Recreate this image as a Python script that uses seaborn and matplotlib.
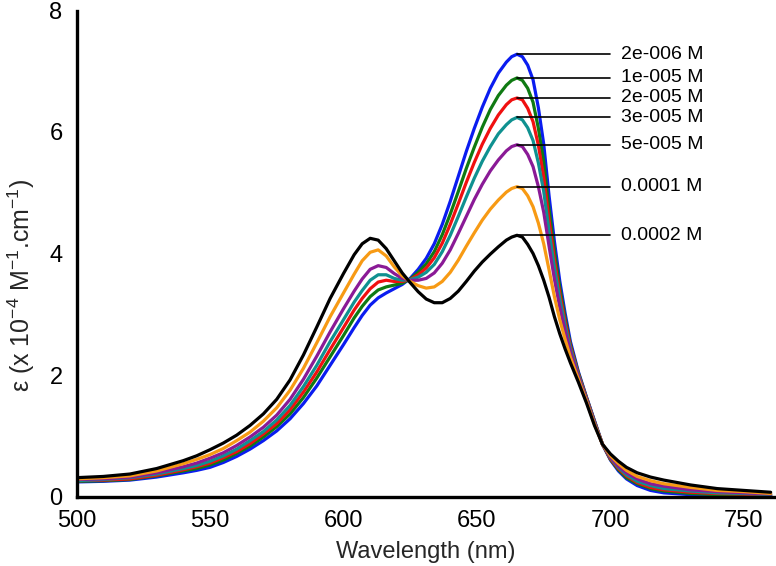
import numpy as np
import pandas as pd
import matplotlib
matplotlib.use("Agg")
import matplotlib.pyplot as plt
import seaborn as sns

wavelength = [500, 510, 520, 530, 540, 545, 550, 555, 560, 565, 570, 575, 580, 585, 590, 595, 600,
              604, 607,
              610, 613, 616, 619, 622, 625, 628, 631, 634, 637, 640,
              643, 646, 649, 652, 655, 658, 661,
              663, 665, 667, 669, 671, 673, 675, 677, 679, 681, 683, 685,
              688, 691, 694, 697, 700, 703, 706,
              710, 715, 720, 730, 740, 750, 760]

eps_2e6 = [0.24, 0.25, 0.27, 0.32, 0.39, 0.43, 0.48, 0.56, 0.66, 0.78, 0.92, 1.08, 1.28, 1.53, 1.82, 2.16, 2.50,
           2.78, 2.98,
           3.15, 3.27, 3.35, 3.42, 3.49, 3.59, 3.74, 3.92, 4.16, 4.48, 4.86,
           5.27, 5.68, 6.06, 6.41, 6.72, 6.97, 7.15,
           7.24, 7.28, 7.24, 7.10, 6.86, 6.40, 5.80, 4.95, 4.20, 3.55, 3.02, 2.55,
           2.05, 1.64, 1.25, 0.86, 0.60, 0.42, 0.29,
           0.18, 0.10, 0.06, 0.03, 0.02, 0.02, 0.01]
eps_1e5 = [0.25, 0.26, 0.28, 0.34, 0.42, 0.46, 0.52, 0.60, 0.71, 0.83, 0.98, 1.15, 1.36, 1.63, 1.95, 2.30, 2.65,
           2.94, 3.13,
           3.29, 3.40, 3.45, 3.48, 3.51, 3.58, 3.69, 3.83, 4.03, 4.31, 4.65,
           5.02, 5.40, 5.75, 6.08, 6.37, 6.60, 6.77,
           6.85, 6.89, 6.85, 6.72, 6.49, 6.06, 5.51, 4.73, 4.04, 3.44, 2.94, 2.50,
           2.03, 1.63, 1.24, 0.86, 0.61, 0.44, 0.31,
           0.21, 0.13, 0.09, 0.05, 0.03, 0.03, 0.02]
eps_2e5 = [0.26, 0.27, 0.29, 0.35, 0.44, 0.49, 0.55, 0.64, 0.74, 0.87, 1.03, 1.20, 1.43, 1.72, 2.05, 2.42, 2.78,
           3.07, 3.26,
           3.42, 3.53, 3.56, 3.54, 3.54, 3.57, 3.65, 3.76, 3.93, 4.17, 4.48,
           4.82, 5.17, 5.50, 5.80, 6.06, 6.28, 6.45,
           6.53, 6.56, 6.53, 6.39, 6.17, 5.78, 5.26, 4.55, 3.90, 3.34, 2.88, 2.47,
           2.01, 1.62, 1.23, 0.86, 0.62, 0.46, 0.34,
           0.23, 0.15, 0.11, 0.07, 0.05, 0.04, 0.02]
eps_3e5 = [0.26, 0.28, 0.31, 0.37, 0.46, 0.51, 0.58, 0.67, 0.78, 0.92, 1.07, 1.26, 1.50, 1.81, 2.16, 2.55, 2.91,
           3.20, 3.39,
           3.56, 3.65, 3.65, 3.59, 3.56, 3.57, 3.61, 3.69, 3.82, 4.03, 4.30,
           4.61, 4.93, 5.24, 5.52, 5.76, 5.97, 6.12,
           6.20, 6.24, 6.20, 6.07, 5.86, 5.49, 5.02, 4.37, 3.77, 3.25, 2.81, 2.43,
           1.99, 1.60, 1.22, 0.86, 0.64, 0.48, 0.36,
           0.25, 0.18, 0.13, 0.09, 0.06, 0.05, 0.03]
eps_5e5 = [0.28, 0.29, 0.32, 0.39, 0.49, 0.55, 0.63, 0.72, 0.84, 0.98, 1.14, 1.34, 1.60, 1.93, 2.31, 2.71, 3.09,
           3.38, 3.58,
           3.74, 3.80, 3.77, 3.67, 3.59, 3.56, 3.56, 3.59, 3.68, 3.84, 4.06,
           4.33, 4.61, 4.89, 5.14, 5.36, 5.54, 5.69,
           5.76, 5.79, 5.76, 5.63, 5.43, 5.10, 4.68, 4.12, 3.58, 3.12, 2.73, 2.38,
           1.97, 1.59, 1.21, 0.86, 0.65, 0.50, 0.39,
           0.29, 0.21, 0.17, 0.11, 0.08, 0.06, 0.04]
eps_1e4 = [0.29, 0.31, 0.34, 0.42, 0.54, 0.61, 0.69, 0.79, 0.92, 1.06, 1.24, 1.46, 1.75, 2.11, 2.53, 2.96, 3.35,
           3.66, 3.88,
           4.02, 4.06, 3.96, 3.78, 3.63, 3.54, 3.47, 3.43, 3.45, 3.54, 3.69,
           3.89, 4.12, 4.34, 4.55, 4.73, 4.88, 5.01,
           5.07, 5.10, 5.07, 4.95, 4.77, 4.50, 4.16, 3.73, 3.29, 2.91, 2.59, 2.29,
           1.93, 1.57, 1.19, 0.86, 0.67, 0.54, 0.43,
           0.33, 0.26, 0.21, 0.15, 0.10, 0.08, 0.05]
eps_2e4 = [0.31, 0.33, 0.37, 0.46, 0.59, 0.67, 0.77, 0.88, 1.01, 1.17, 1.36, 1.60, 1.92, 2.33, 2.79, 3.26, 3.67,
           3.98, 4.16,
           4.25, 4.22, 4.08, 3.88, 3.68, 3.52, 3.37, 3.25, 3.19, 3.19, 3.26,
           3.38, 3.54, 3.71, 3.86, 3.99, 4.11, 4.22,
           4.27, 4.30, 4.27, 4.15, 4.00, 3.80, 3.56, 3.28, 2.96, 2.68, 2.43, 2.20,
           1.88, 1.54, 1.17, 0.86, 0.70, 0.58, 0.48,
           0.39, 0.32, 0.27, 0.19, 0.13, 0.10, 0.07]

series_labels = ["2e-006 M", "1e-005 M", "2e-005 M", "3e-005 M", "5e-005 M", "0.0001 M", "0.0002 M"]
series_values = [eps_2e6, eps_1e5, eps_2e5, eps_3e5, eps_5e5, eps_1e4, eps_2e4]
series_colors = ["#0a1cf0", "#0f7a12", "#f01010", "#0f9190", "#8a1a96", "#f79a14", "#000000"]

x_ticks = [500, 550, 600, 650, 700, 750]
y_ticks = [0, 2, 4, 6, 8]

frames = [pd.DataFrame({"wavelength": wavelength, "eps": vals, "conc": lab})
          for lab, vals in zip(series_labels, series_values)]
df = pd.concat(frames, ignore_index=True)

sns.set_style("white")
plt.rcParams["font.family"] = ["Liberation Sans", "DejaVu Sans"]
plt.rcParams["mathtext.fontset"] = "custom"
plt.rcParams["mathtext.rm"] = "Liberation Sans"
plt.rcParams["mathtext.it"] = "Liberation Sans:italic"

fig = plt.figure(figsize=(7.76, 5.66), dpi=100)
ax = fig.add_axes([76.5 / 776, 69.5 / 566, (776 - 76.5) / 776, (496.5 - 10.5) / 566])

sns.lineplot(data=df, x="wavelength", y="eps", hue="conc", hue_order=series_labels,
             palette=dict(zip(series_labels, series_colors)), linewidth=2.3, sort=False,
             legend=False, ax=ax, estimator=None)

for lab, vals in zip(series_labels, series_values):
    i = int(np.argmax(vals))
    ax.plot([wavelength[i], 700], [vals[i], vals[i]], color="black", lw=1.2, zorder=5)
    ax.text(704, vals[i], lab, fontsize=14, va="center", ha="left", color="black")

ax.set_xlim(500, 762)
ax.set_ylim(0, 8)
ax.set_xticks(x_ticks)
ax.set_yticks(y_ticks)
ax.tick_params(direction="in", length=5, width=2, labelsize=17, colors="black")
ax.tick_params(axis="x", pad=10)
ax.tick_params(axis="y", pad=10)
for side in ["top", "right"]:
    ax.spines[side].set_visible(False)
for side in ["left", "bottom"]:
    ax.spines[side].set_linewidth(2.4)
    ax.spines[side].set_color("black")
ax.set_xlabel("Wavelength (nm)", fontsize=17, labelpad=6)
ax.set_ylabel(r"ε (x 10$^{-4}$ M$^{-1}$.cm$^{-1}$)", fontsize=18)
ax.yaxis.set_label_coords(-0.057, 0.435)

fig.savefig("out.png", dpi=100)
